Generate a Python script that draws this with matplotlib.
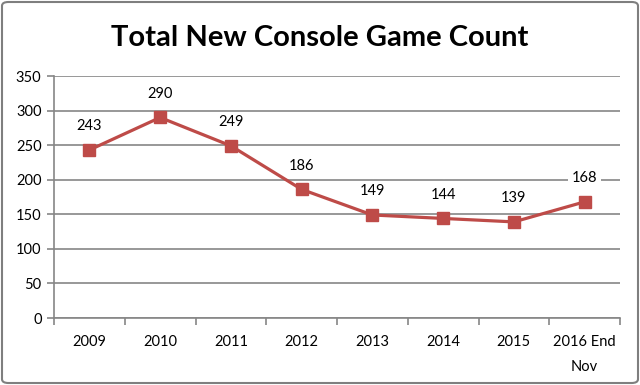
import matplotlib
matplotlib.use("Agg")
import matplotlib.pyplot as plt
from matplotlib.patches import FancyBboxPatch

categories = ["2009", "2010", "2011", "2012", "2013", "2014", "2015", "2016 End\nNov"]
values = [243, 290, 249, 186, 149, 144, 139, 168]
yticks = [0, 50, 100, 150, 200, 250, 300, 350]

plt.rcParams['font.family'] = ['Lato', 'DejaVu Sans']
color = '#BE4B48'
grid = '#868686'

fig = plt.figure(figsize=(6.4, 3.85), dpi=100)
ax = fig.add_axes([54/640, 1-318/385, (620-54)/640, (318-76)/385])

x = list(range(len(values)))
ax.plot(x, values, color=color, lw=2.3, marker='s', ms=8, mfc=color, mec=color, zorder=3)
for xi, v in zip(x, values):
    ax.annotate(str(v), (xi, v), xytext=(0, 12), textcoords='offset points',
                ha='center', va='bottom', fontsize=10.5, color='black',
                bbox=dict(boxstyle='square,pad=0.25', fc='white', ec='none'), zorder=4)

ax.set_xlim(-0.5, len(values) - 0.5)
ax.set_ylim(0, 350)
ax.set_yticks(yticks)
ax.set_yticklabels([str(t) for t in yticks], fontsize=10.5)
ax.yaxis.grid(True, color=grid, lw=1.2)
ax.set_axisbelow(True)

ax.set_xticks([i + 0.5 for i in range(-1, len(values))], minor=False)
ax.set_xticklabels([])
ax.set_xticks(x, minor=True)
ax.set_xticklabels(categories, minor=True, fontsize=10.5, linespacing=2.0, va='top')
ax.tick_params(axis='x', which='minor', length=0, pad=12)
ax.tick_params(axis='x', which='major', length=5, direction='out', color=grid, width=1.2)
ax.tick_params(axis='y', length=5, direction='out', color=grid, width=1.2, pad=4)

for s in ['top', 'right']:
    ax.spines[s].set_visible(False)
for s in ['left', 'bottom']:
    ax.spines[s].set_color(grid)
    ax.spines[s].set_linewidth(1.2)

fig.text(0.5, 1 - 38/385, "Total New Console Game Count", ha='center', va='center',
         fontsize=21, fontweight='bold')

border = FancyBboxPatch((2/640, 2/385), 1 - 4/640, 1 - 4/385,
                        boxstyle='round,pad=0,rounding_size=0.01', transform=fig.transFigure,
                        fc='none', ec='#7F7F7F', lw=1.5)
fig.patches.append(border)

fig.savefig("out.png", dpi=100)
